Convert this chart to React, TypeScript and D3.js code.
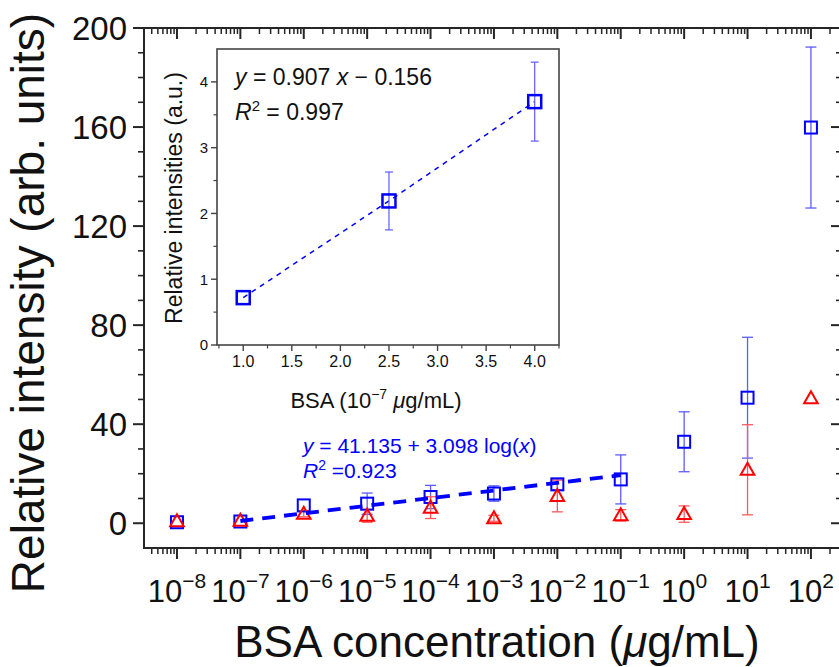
import React from "react";
import * as d3 from "d3";

// ---------- data ----------
const decades = [-8, -7, -6, -5, -4, -3, -2, -1, 0, 1, 2];
const blueMean = [0.4, 0.7, 7.2, 7.9, 10.6, 12.0, 15.7, 17.7, 32.9, 50.7, 159.8];
const blueErr = [0.5, 0.6, 0.8, 4.3, 4.7, 3.1, 2.2, 9.9, 12.1, 24.4, 32.5];
const redMean = [0.8, 1.0, 3.8, 3.0, 6.3, 2.0, 11.0, 3.2, 3.7, 21.6, 50.5];
const redErr = [0.6, 0.8, 1.2, 2.6, 4.4, 1.2, 6.4, 2.3, 3.3, 18.2, 0.8];
const fitX = [1e-7, 1e-1];
const fitY = [0.9, 19.4];
const yTicksMain = [0, 40, 80, 120, 160, 200];

const insetX = [1, 2.5, 4];
const insetY = [0.72, 2.19, 3.7];
const insetErr = [0.0, 0.44, 0.6];
const insetXTicks = [1.0, 1.5, 2.0, 2.5, 3.0, 3.5, 4.0];
const insetYTicks = [0, 1, 2, 3, 4];

const FONT = "'Liberation Sans', Arial, Helvetica, sans-serif";
const BLUE = "#0000ff";
const BLUE_ERR = "#5c5cff";
const RED = "#ff0000";
const RED_ERR = "#ff5a5a";
const AXIS = "#262626";

export default function App() {
  // main scales
  const x = d3.scaleLog().domain([Math.pow(10, -8.52), Math.pow(10, 2.49)]).range([144, 842]);
  const y = d3.scaleLinear().domain([-10, 200]).range([548, 28]);
  const L = 144, R = 842, T = 28, B = 548;

  const majorX = decades.map((d) => Math.pow(10, d));
  const minorX: number[] = [];
  for (let d = -9; d <= 2; d++) {
    for (let m = 2; m <= 9; m++) {
      const v = m * Math.pow(10, d);
      if (v > x.domain()[0] && v < x.domain()[1]) minorX.push(v);
    }
  }
  const minorY: number[] = d3.range(10, 200, 10).filter((v) => v % 40 !== 0);

  // inset scales
  const ix = d3.scaleLinear().domain([0.73, 4.25]).range([217, 559]);
  const iy = d3.scaleLinear().domain([0, 4.5]).range([345, 49]);
  const iL = 217, iR = 559, iT = 49, iB = 345;
  const iMinorX = d3.range(0.75, 4.26, 0.25).filter((v) => Math.abs((v * 2) % 1) > 0.01);
  const iMinorY = [0.5, 1.5, 2.5, 3.5];

  const fitLine = d3.line<number>().x((_, i) => x(fitX[i])).y((v) => y(v));
  const insetLine = d3.line<number>().x((_, i) => ix(insetX[i])).y((v) => iy(v));

  const square = (cx: number, cy: number, s: number, key: string, sw: number) => (
    <rect key={key} x={cx - s / 2} y={cy - s / 2} width={s} height={s} fill="none" stroke={BLUE} strokeWidth={sw} />
  );
  const triangle = (cx: number, cy: number, key: string) => {
    const h = 6.8;
    const p = [
      [cx, cy - 7],
      [cx - h, cy + 5],
      [cx + h, cy + 5],
    ];
    return <polygon key={key} points={p.map((q) => q.join(",")).join(" ")} fill="none" stroke={RED} strokeWidth={2} strokeLinejoin="miter" />;
  };
  const errBar = (cx: number, lo: number, hi: number, color: string, cap: number, key: string, sw = 1.3) => (
    <g key={key} stroke={color} strokeWidth={sw}>
      <line x1={cx} x2={cx} y1={lo} y2={hi} />
      <line x1={cx - cap} x2={cx + cap} y1={lo} y2={lo} />
      <line x1={cx - cap} x2={cx + cap} y1={hi} y2={hi} />
    </g>
  );

  return (
    <svg width={839} height={667} style={{ position: "absolute", left: 0, top: 0, background: "#fff" }} fontFamily={FONT}>
      <rect x={0} y={0} width={839} height={667} fill="#fff" />

      {/* main error bars */}
      {decades.map((d, i) =>
        blueErr[i] > 0.9 ? errBar(x(Math.pow(10, d)), y(blueMean[i] - blueErr[i]), y(blueMean[i] + blueErr[i]), BLUE_ERR, 5.5, "be" + i) : null
      )}
      {decades.map((d, i) =>
        redErr[i] > 0.9 ? errBar(x(Math.pow(10, d)), y(redMean[i] - redErr[i]), y(redMean[i] + redErr[i]), RED_ERR, 5.5, "re" + i) : null
      )}
      {/* markers */}
      {decades.map((d, i) => square(x(Math.pow(10, d)), y(blueMean[i]), 12, "bs" + i, 2))}
      {decades.map((d, i) => triangle(x(Math.pow(10, d)), y(redMean[i]), "rt" + i))}

      {/* fit line */}
      <path d={fitLine(fitY) || ""} fill="none" stroke={BLUE} strokeWidth={3.8} strokeDasharray="13 9" />

      {/* annotation */}
      <text x={303} y={453} fontSize={21} fill={BLUE}>
        <tspan fontStyle="italic">y</tspan> = 41.135 + 3.098 log(<tspan fontStyle="italic">x</tspan>)
      </text>
      <text x={303} y={478} fontSize={21} fill={BLUE}>
        <tspan fontStyle="italic">R</tspan>
        <tspan fontSize={14} dy={-8}>2</tspan>
        <tspan dy={8}> =0.923</tspan>
      </text>

      {/* main frame */}
      <rect x={L} y={T} width={R - L} height={B - T} fill="none" stroke={AXIS} strokeWidth={2} />

      {/* left / right ticks */}
      {yTicksMain.map((v) => (
        <g key={"yt" + v} stroke={AXIS} strokeWidth={2}>
          <line x1={L - 11} x2={L} y1={y(v)} y2={y(v)} />
          <line x1={R - 11} x2={R} y1={y(v)} y2={y(v)} />
        </g>
      ))}
      {minorY.map((v) => (
        <g key={"ym" + v} stroke={AXIS} strokeWidth={1.6}>
          <line x1={L - 6} x2={L} y1={y(v)} y2={y(v)} />
          <line x1={R - 6} x2={R} y1={y(v)} y2={y(v)} />
        </g>
      ))}
      {yTicksMain.map((v) => (
        <text key={"yl" + v} x={127} y={y(v)} dy="0.36em" textAnchor="end" fontSize={33} fill="#111">
          {v}
        </text>
      ))}

      {/* bottom / top ticks */}
      {majorX.map((v, i) => (
        <g key={"xt" + i} stroke={AXIS} strokeWidth={2}>
          <line x1={x(v)} x2={x(v)} y1={B} y2={B + 11} />
          <line x1={x(v)} x2={x(v)} y1={T} y2={T + 11} />
        </g>
      ))}
      {minorX.map((v, i) => (
        <g key={"xm" + i} stroke={AXIS} strokeWidth={1.5}>
          <line x1={x(v)} x2={x(v)} y1={B} y2={B + 6} />
          <line x1={x(v)} x2={x(v)} y1={T} y2={T + 6} />
        </g>
      ))}
      {decades.map((d, i) => (
        <text key={"xl" + i} x={x(Math.pow(10, d))} y={602} textAnchor="middle" fontSize={31} fill="#111">
          10
          <tspan fontSize={21} dy={-14}>
            {d < 0 ? "\u2212" + Math.abs(d) : String(d)}
          </tspan>
        </text>
      ))}

      {/* axis titles */}
      <text x={497} y={657} textAnchor="middle" fontSize={44} fill="#111">
        BSA concentration (<tspan fontStyle="italic">μ</tspan>g/mL)
      </text>
      <text transform="translate(44,303) rotate(-90)" textAnchor="middle" fontSize={46} fill="#111">
        Relative intensity (arb. units)
      </text>

      {/* ---------- inset ---------- */}
      <rect x={iL} y={iT} width={iR - iL} height={iB - iT} fill="#fff" stroke="#444" strokeWidth={1.6} />
      <path d={insetLine(insetY) || ""} fill="none" stroke={BLUE} strokeWidth={1.5} strokeDasharray="5 5" />
      {insetX.map((v, i) =>
        insetErr[i] > 0.05 ? errBar(ix(v), iy(insetY[i] - insetErr[i]), iy(insetY[i] + insetErr[i]), BLUE_ERR, 4, "ie" + i, 1.2) : null
      )}
      {insetX.map((v, i) => square(ix(v), iy(insetY[i]), 13, "is" + i, 2.5))}

      {insetXTicks.map((v) => (
        <g key={"ixt" + v}>
          <line x1={ix(v)} x2={ix(v)} y1={iB} y2={iB + 6} stroke="#444" strokeWidth={1.4} />
          <text x={ix(v)} y={367} textAnchor="middle" fontSize={16} fill="#111">
            {v.toFixed(1)}
          </text>
        </g>
      ))}
      {iMinorX.map((v) => (
        <line key={"ixm" + v} x1={ix(v)} x2={ix(v)} y1={iB} y2={iB + 3.5} stroke="#444" strokeWidth={1.2} />
      ))}
      {insetYTicks.map((v) => (
        <g key={"iyt" + v}>
          <line x1={iL - 6} x2={iL} y1={iy(v)} y2={iy(v)} stroke="#444" strokeWidth={1.4} />
          <text x={208} y={iy(v)} dy="0.36em" textAnchor="end" fontSize={15} fill="#111">
            {v}
          </text>
        </g>
      ))}
      {iMinorY.map((v) => (
        <line key={"iym" + v} x1={iL - 3.5} x2={iL} y1={iy(v)} y2={iy(v)} stroke="#444" strokeWidth={1.2} />
      ))}
      <text x={376} y={408} textAnchor="middle" fontSize={22} fill="#111">
        BSA (10<tspan fontSize={14} dy={-9}>−7</tspan>
        <tspan dy={9}> </tspan>
        <tspan fontStyle="italic">μ</tspan>g/mL)
      </text>
      <text transform="translate(182,198) rotate(-90)" textAnchor="middle" fontSize={23} fill="#111">
        Relative intensities (a.u.)
      </text>
      <text x={235} y={85} fontSize={23} fill="#111">
        <tspan fontStyle="italic">y</tspan> = 0.907 <tspan fontStyle="italic">x</tspan> − 0.156
      </text>
      <text x={235} y={120} fontSize={23} fill="#111">
        <tspan fontStyle="italic">R</tspan>
        <tspan fontSize={15} dy={-9}>2</tspan>
        <tspan dy={9}> = 0.997</tspan>
      </text>
    </svg>
  );
}
